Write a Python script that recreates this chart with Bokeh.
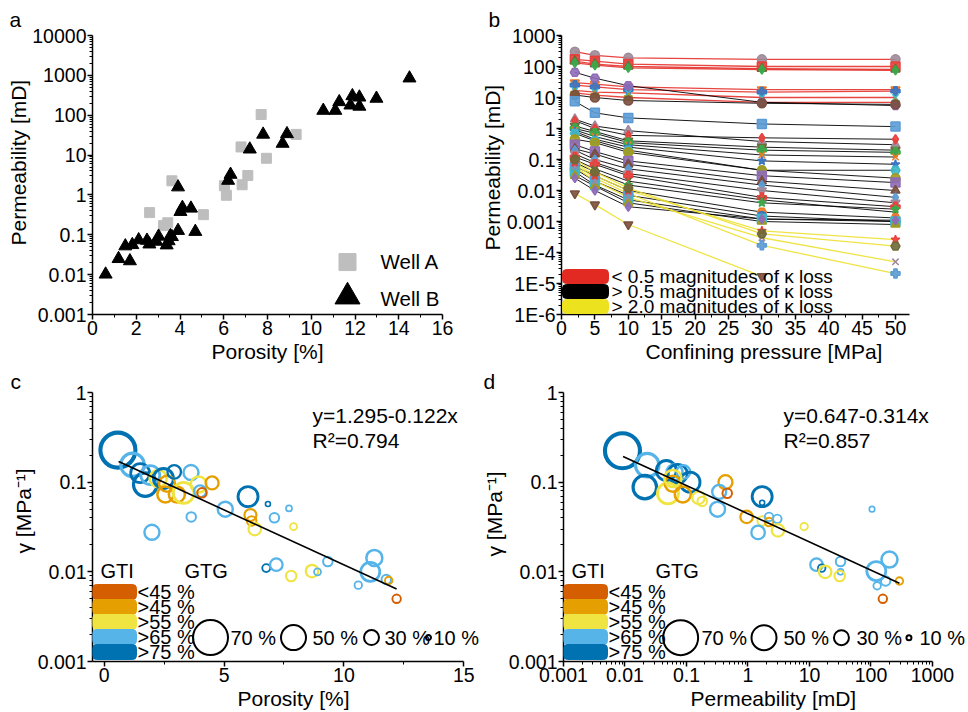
import numpy as np
from bokeh.plotting import figure
from bokeh.layouts import column, row
from bokeh.models import (FixedTicker, CustomJSTickFormatter, Label, BoxAnnotation,
                          Range1d, ColumnDataSource, Title)
from bokeh.embed import file_html
from bokeh.resources import INLINE

# ---------------- data: panel a ----------------
por_A = [2.61, 3.63, 3.25, 3.44, 5.07, 6.03, 6.12, 6.79, 6.84, 7.10, 7.71, 7.95, 9.31]
perm_A = [0.36, 2.26, 0.17, 0.20, 0.32, 1.7, 0.98, 16, 1.8, 3.07, 104, 8.3, 33]
por_B = [0.6, 1.19, 1.50, 1.71, 1.82, 2.11, 2.49, 2.60, 2.92, 3.02, 3.39, 3.48, 3.56, 3.63,
         3.91, 3.91, 4.02, 4.11, 4.50, 4.70, 6.20, 6.31, 7.19, 7.80, 8.69, 8.89, 10.55,
         11.10, 11.28, 11.79, 11.88, 12.2, 12.2, 12.98, 14.49]
perm_B = [0.0102, 0.025, 0.052, 0.022, 0.056, 0.074, 0.072, 0.058, 0.068, 0.091, 0.055,
          0.07, 0.094, 0.089, 1.57, 0.127, 0.38, 0.48, 0.46, 0.12, 2.3, 3.25, 14, 33, 19.5,
          34, 131, 131, 216, 178, 305, 282, 166, 263, 850]

# ---------------- data: panel b ----------------
pressure = [2, 5, 10, 30, 50]
k_red = [
    [300, 230, 190, 170, 170],
    [170, 150, 120, 100, 100],
    [150, 120, 100, 85, 80],
    [130, 110, 90, 80, 75],
    [30, 27, 22, 18, 18],
    [25, 22, 18, 15, 16],
    [17, 15, 14, 10, 10],
    [14, 12, 10, 7, 7],
]
k_black = [
    [65, 42, 24, 7, 5.5],
    [12, 10, 8, 6.5, 6],
    [7.5, 3.2, 2.2, 1.4, 1.15],
    [2.0, 1.2, 0.85, 0.38, 0.3],
    [1.8, 1.0, 0.6, 0.5, 0.45],
    [1.2, 0.8, 0.4, 0.25, 0.2],
    [1.0, 0.7, 0.35, 0.2, 0.17],
    [0.9, 0.55, 0.3, 0.14, 0.12],
    [0.8, 0.45, 0.25, 0.09, 0.07],
    [0.7, 0.4, 0.2, 0.045, 0.045],
    [0.45, 0.35, 0.17, 0.045, 0.025],
    [0.3, 0.18, 0.09, 0.03, 0.018],
    [0.22, 0.15, 0.07, 0.02, 0.01],
    [0.2, 0.1, 0.05, 0.015, 0.006],
    [0.15, 0.08, 0.035, 0.01, 0.004],
    [0.12, 0.07, 0.03, 0.006, 0.003],
    [0.1, 0.05, 0.02, 0.005, 0.002],
    [0.08, 0.04, 0.015, 0.004, 0.0025],
    [0.06, 0.03, 0.01, 0.002, 0.0013],
    [0.05, 0.02, 0.007, 0.0015, 0.001],
    [0.04, 0.015, 0.005, 0.0012, 0.001],
    [0.03, 0.014, 0.004, 0.001, 0.0008],
    [0.025, 0.01, 0.003, 0.0012, 0.0011],
]
k_yellow = [
    [0.008, 0.0035, 0.0008, 1.7e-5, np.nan],
    [0.07, 0.025, 0.008, 1.7e-4, 2.1e-5],
    [0.06, 0.02, 0.006, 3e-4, 5e-5],
    [0.08, 0.03, 0.01, 5e-4, 2.6e-4],
    [0.1, 0.04, 0.012, 4e-4, 1.6e-4],
]
b_legend = ["< 0.5 magnitudes of κ loss", "> 0.5 magnitudes of κ loss", "> 2.0 magnitudes of κ loss"]

# ---------------- data: panels c, d ----------------
gti_labels = ["<45 %", ">45 %", ">55 %", ">65 %", ">75 %"]
gtg_legend = [70, 50, 30, 10]

por_c = [0.57, 1.18, 1.50, 1.71, 1.92, 2.25, 2.47, 2.62, 2.92, 3.62, 2.55, 3.03, 3.31, 3.94,
         4.00, 4.08, 4.50, 6.00, 5.05, 3.63, 1.99, 6.10, 6.15, 6.28, 6.83, 7.10, 7.71, 7.90,
         6.76, 7.18, 7.80, 8.67, 8.90, 9.33, 11.27, 11.10, 10.60, 11.77, 11.87, 12.20]
gam_c = [0.228, 0.156, 0.126, 0.094, 0.12, 0.11, 0.11, 0.096, 0.13, 0.128, 0.073, 0.073,
         0.076, 0.094, 0.079, 0.076, 0.098, 0.069, 0.050, 0.041, 0.0276, 0.043, 0.037, 0.030,
         0.057, 0.040, 0.051, 0.032, 0.011, 0.012, 0.009, 0.0102, 0.010, 0.013, 0.0143,
         0.010, 0.0071, 0.0082, 0.0080, 0.005]
gti_c = [4, 3, 4, 4, 3, 2, 4, 1, 4, 3, 1, 1, 2, 2, 3, 0, 1, 4, 3, 3, 3, 1, 1, 2, 4, 3, 3, 2,
         4, 3, 2, 2, 3, 3, 3, 3, 3, 3, 1, 0]
gtg_c = [70, 47, 38, 47, 38, 34, 40, 32, 27, 30, 32, 32, 42, 32, 24, 19, 26, 40, 30, 19, 30,
         24, 19, 25, 10, 19, 12, 14, 16, 25, 21, 25, 14, 19, 32, 38, 15, 19, 15, 17]

perm_d = [0.0091, 0.023, 0.021, 0.047, 0.064, 0.072, 0.089, 0.114, 0.050, 0.060, 0.087,
          0.060, 0.157, 0.18, 0.43, 0.34, 0.46, 0.32, 1.7, 1.7, 0.95, 1.7, 2.2, 2.2, 3.0,
          3.07, 1.46, 8.2, 104, 13, 15.8, 18, 32, 32, 31, 122, 200, 126, 173, 290, 156]
gam_d = [0.224, 0.155, 0.088, 0.135, 0.129, 0.124, 0.13, 0.100, 0.075, 0.096, 0.073, 0.110,
         0.067, 0.061, 0.100, 0.078, 0.075, 0.050, 0.069, 0.059, 0.041, 0.037, 0.041, 0.036,
         0.039, 0.029, 0.0275, 0.032, 0.050, 0.012, 0.011, 0.010, 0.013, 0.010, 0.009,
         0.0102, 0.0137, 0.007, 0.0079, 0.0079, 0.005]
gti_d = [4, 3, 4, 4, 3, 4, 3, 4, 2, 1, 1, 2, 2, 2, 1, 3, 0, 3, 4, 4, 1, 2, 3, 1, 3, 2, 3, 2,
         3, 3, 4, 2, 3, 3, 2, 3, 3, 3, 3, 1, 0]
gtg_d = [70, 47, 47, 40, 32, 38, 27, 40, 42, 32, 32, 34, 25, 19, 28, 28, 19, 30, 40, 10, 25,
         19, 17, 17, 17, 25, 27, 15, 11, 25, 15, 25, 19, 12, 21, 38, 32, 15, 19, 15, 17]

fit_c = (-0.697, -0.1225)     # log10(gamma) = a + b * porosity
fit_c_x = [0.6, 12.2]
fit_d = (-1.352, -0.3146)     # log10(gamma) = a + b * log10(k)
fit_d_x = [0.0093, 290]
eq_c = ["y=1.295-0.122x", "R²=0.794"]
eq_d = ["y=0.647-0.314x", "R²=0.857"]

# ---------------- styles ----------------
FONT = "Liberation Sans"
FS = "19.5px"
FT = "21px"
GTI_COLORS = ["#D55E00", "#E69F00", "#F0E442", "#56B4E9", "#0072B2"]


def log_ticks(lo, hi):
    majors = [10.0 ** e for e in range(lo, hi + 1)]
    minors = [m * 10.0 ** e for e in range(lo, hi) for m in range(2, 10)]
    return FixedTicker(ticks=majors, minor_ticks=minors)


def make_fmt():
    return CustomJSTickFormatter(code="""
if (tick >= 1) return tick.toFixed(0);
const d = Math.round(-Math.log10(tick));
if (d >= 4) return '1E-' + d;
return tick.toFixed(d);
""")


FRAME = {}


def base_fig(key, w, h, frame, xr, yr, xlog, ylog):
    bl, br, bt, bb = frame
    p = figure(width=w, height=h, x_range=Range1d(*xr), y_range=Range1d(*yr),
               x_axis_type="log" if xlog else "linear",
               y_axis_type="log" if ylog else "linear",
               output_backend="svg", toolbar_location=None,
               min_border_left=bl, min_border_right=br,
               min_border_top=bt, min_border_bottom=bb)
    p.grid.visible = False
    p.outline_line_color = None
    for ax in (p.xaxis[0], p.yaxis[0]):
        ax.axis_line_width = 1.5
        ax.axis_line_color = "black"
        ax.major_tick_line_color = "black"
        ax.major_tick_line_width = 1.5
        ax.minor_tick_line_color = "black"
        ax.minor_tick_line_width = 1
        ax.major_tick_in = 0
        ax.major_tick_out = 5
        ax.minor_tick_in = 0
        ax.minor_tick_out = 3
        ax.major_label_text_font = FONT
        ax.major_label_text_font_size = FS
        ax.major_label_text_color = "black"
        ax.major_label_standoff = 1
    FRAME[key] = (w - bl - br, h - bt - bb)
    return p


def title(p, text, side, offset, size=FT, standoff=0):
    p.add_layout(Title(text=text, align="left", offset=offset, text_font=FONT,
                       text_font_size=size, text_font_style="normal",
                       text_color="black", standoff=standoff), side)


def lab(p, x, y, text, size="20px", align="left"):
    p.add_layout(Label(x=x, y=y, x_units="screen", y_units="screen", text=text,
                       text_font=FONT, text_font_size=size, text_align=align,
                       text_baseline="middle", text_color="black"))


def box(p, l, r, b, t, color):
    p.add_layout(BoxAnnotation(left=l, right=r, bottom=b, top=t,
                               left_units="screen", right_units="screen",
                               bottom_units="screen", top_units="screen",
                               fill_color=color, fill_alpha=1.0, line_color=color,
                               line_alpha=1.0, border_radius=4))


def frame_to_data(rng, log, frac):
    lo, hi = rng
    if log:
        return 10 ** (np.log10(lo) + frac * (np.log10(hi) - np.log10(lo)))
    return lo + frac * (hi - lo)


# ================= panel a =================
xr_a, yr_a = (0, 16), (0.001, 10000)
pa = base_fig("a", 478, 367, (92, 36, 34, 51), xr_a, yr_a, False, True)
fw, fh = FRAME["a"]
pa.xaxis[0].ticker = FixedTicker(ticks=list(range(0, 17, 2)), minor_ticks=list(range(1, 16, 2)))
pa.yaxis[0].ticker = log_ticks(-3, 4)
pa.yaxis[0].formatter = make_fmt()
pa.scatter(por_A, perm_A, marker="square", size=10, color="#BEBEBE")
pa.scatter(por_B, perm_B, marker="triangle", size=13, color="black")
lx = frame_to_data(xr_a, False, 255 / fw)
pa.scatter([lx], [frame_to_data(yr_a, True, 53 / fh)], marker="square", size=17, color="#BEBEBE")
pa.scatter([lx], [frame_to_data(yr_a, True, 18 / fh)], marker="triangle", size=25, color="black")
lab(pa, 288, 53, "Well A", size="20.5px")
lab(pa, 288, 16, "Well B", size="20.5px")
title(pa, "a", "above", -83, standoff=9)
title(pa, "Permeability [mD]", "left", 69)
title(pa, "Porosity [%]", "below", 119)

# ================= panel b =================
xr_b, yr_b = (0, 52.1), (1e-6, 1000)
pb = base_fig("b", 490, 367, (81, 59, 35, 53), xr_b, yr_b, False, True)
pb.xaxis[0].ticker = FixedTicker(ticks=list(range(0, 51, 5)),
                                 minor_ticks=[2.5 + 5 * i for i in range(10)])
pb.yaxis[0].ticker = log_ticks(-6, 3)
pb.yaxis[0].formatter = make_fmt()

MARKERS = ["circle", "square", "triangle", "diamond", "inverted_triangle", "plus", "x",
           "star", "hex"]
MCOLORS = ["#9E8A9A", "#E8413C", "#6E6A3A", "#3BAA4A", "#F07A22", "#3A75C4", "#3FB8C8",
           "#A39A1C", "#8E6CB8", "#7A4F3E", "#5B9BD5"]
groups = [(k_red, "#E4312B", 1.3), (k_black, "black", 1.0), (k_yellow, "#EDE130", 1.3)]
sx, sy, sm, sc = [], [], [], []
i = 0
for curves, lc, lw in groups:
    pb.multi_line([pressure] * len(curves), [list(c) for c in curves],
                  line_color=lc, line_width=lw, line_alpha=0.9)
    for c in curves:
        for P, k in zip(pressure, c):
            if np.isfinite(k):
                sx.append(P)
                sy.append(k)
                sm.append(MARKERS[i % len(MARKERS)])
                sc.append(MCOLORS[i % len(MCOLORS)])
        i += 1
src_b = ColumnDataSource(dict(x=sx, y=sy, m=sm, c=sc))
pb.scatter("x", "y", marker="m", size=9, fill_color="c", line_color="c",
           fill_alpha=0.9, line_width=1.5, source=src_b)
box(pb, 1, 47, 31, 45, "#E32A22")
box(pb, 1, 47, 16, 30, "black")
box(pb, 1, 47, 1, 15, "#EDE21E")
lab(pb, 50, 38, b_legend[0], size="19px")
lab(pb, 50, 23, b_legend[1], size="19px")
lab(pb, 50, 8, b_legend[2], size="19px")
title(pb, "b", "above", -73, standoff=9)
title(pb, "Permeability [mD]", "left", 64)
title(pb, "Confining pressure [MPa]", "below", 84)


# ================= panels c, d =================
def bubble_panel(p, key, xv, yv, gti, gtg, xr, xlog, yr, fit, fitx, eq, cx_leg, tx_leg):
    fw, fh = FRAME[key]
    cols = [GTI_COLORS[g] for g in gti]
    sizes = [0.5 * g for g in gtg]
    lws = [1.2 + s / 12 for s in sizes]
    src = ColumnDataSource(dict(x=xv, y=yv, c=cols, s=sizes, w=lws))
    p.scatter("x", "y", marker="circle", size="s", line_color="c", line_width="w",
              fill_color=None, source=src)
    fx = np.array(fitx, dtype=float)
    xx = np.log10(fx) if xlog else fx
    p.line(fx, 10 ** (fit[0] + fit[1] * xx), line_color="black", line_width=1.6)
    lab(p, 8, 91, "GTI")
    lab(p, 92, 91, "GTG")
    rows = [(62, 77), (47, 62), (32, 47), (17, 32), (2, 17)]
    for (b, t), col, txt in zip(rows, GTI_COLORS, gti_labels):
        box(p, 0, 44, b, t, col)
        lab(p, 45, (b + t) / 2, txt)
    cy = frame_to_data(yr, True, 24 / fh)
    for g, cxp, txp in zip(gtg_legend, cx_leg, tx_leg):
        p.scatter([frame_to_data(xr, xlog, cxp / fw)], [cy], marker="circle", size=0.5 * g,
                  line_color="black", line_width=2, fill_color=None)
        lab(p, txp, 24, f"{g} %")
    lab(p, 220, 246, eq[0], size=FT)
    lab(p, 220, 221, eq[1], size=FT)


xr_c, yr_c = (-0.49, 15.70), (0.001, 1)
pc = base_fig("c", 480, 345, (92, 0, 24, 51), xr_c, yr_c, False, True)
pc.xaxis[0].ticker = FixedTicker(ticks=[0, 5, 10, 15], minor_ticks=[2.5, 7.5, 12.5])
pc.xaxis[0].bounds = (-0.49, 15)
pc.yaxis[0].ticker = log_ticks(-3, 0)
pc.yaxis[0].formatter = make_fmt()
bubble_panel(pc, "c", por_c, gam_c, gti_c, gtg_c, xr_c, False, yr_c, fit_c, fit_c_x, eq_c,
             [118, 201, 279, 336], [138, 220, 292, 341])
title(pc, "c", "above", -82)
title(pc, "γ [MPa⁻¹]", "left", 108)
title(pc, "Porosity [%]", "below", 145)

xr_d, yr_d = (0.001, 3855), (0.001, 1)
pd_ = base_fig("d", 488, 345, (80, 0, 24, 50), xr_d, yr_d, True, True)
pd_.xaxis[0].ticker = log_ticks(-3, 3)
pd_.xaxis[0].formatter = make_fmt()
pd_.xaxis[0].bounds = (0.001, 1000)
pd_.yaxis[0].ticker = log_ticks(-3, 0)
pd_.yaxis[0].formatter = make_fmt()
bubble_panel(pd_, "d", perm_d, gam_d, gti_d, gtg_d, xr_d, True, yr_d, fit_d, fit_d_x, eq_d,
             [118, 202, 280, 348], [138, 220, 293, 356])
title(pd_, "d", "above", -80)
title(pd_, "γ [MPa⁻¹]", "left", 105)
title(pd_, "Permeability [mD]", "below", 127)

layout = column(row(pa, pb), row(pc, pd_))
open("out.html", "w").write(file_html(layout, INLINE))
